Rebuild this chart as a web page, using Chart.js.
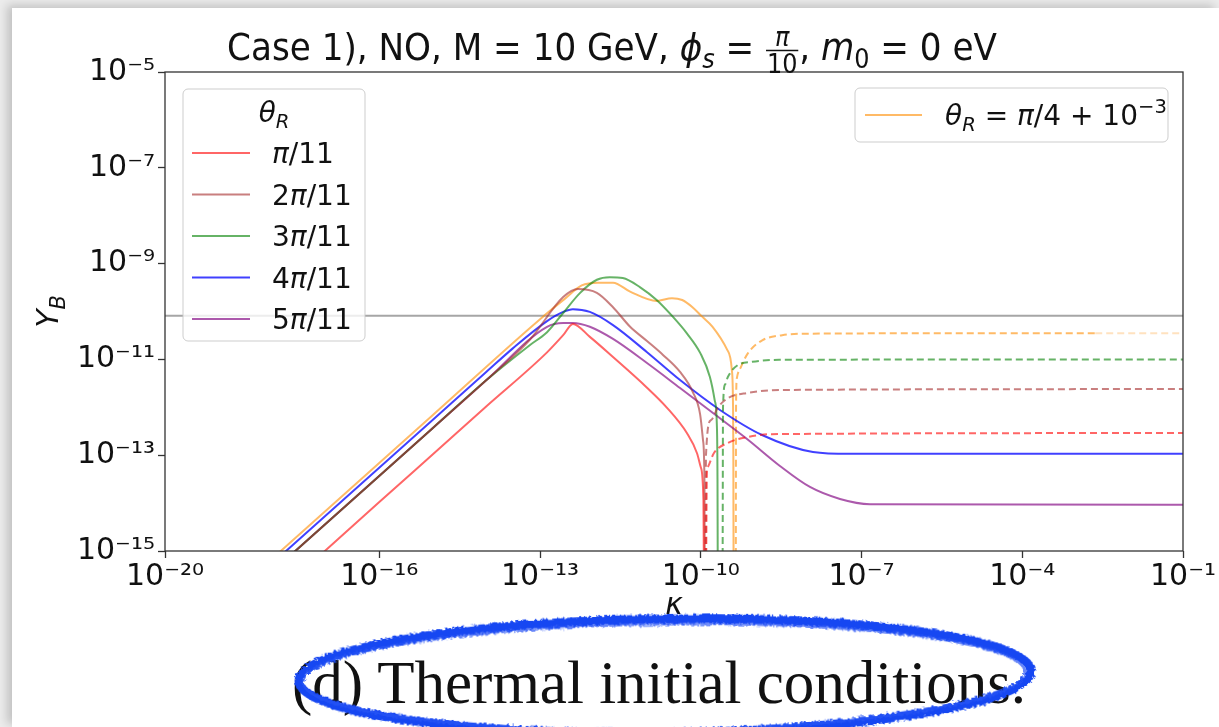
<!DOCTYPE html>
<html>
<head>
<meta charset="utf-8">
<script src="https://cdn.jsdelivr.net/npm/chart.js@4.4.0/dist/chart.umd.min.js"></script>
<style>
  html, body { margin: 0; padding: 0; }
  body { width: 1219px; height: 727px; background: #ececec; position: relative; overflow: hidden; }
  #sheet { position: absolute; left: 12px; top: 8px; right: 0; bottom: 0; background: #fff;
           box-shadow: -5px -3px 9px rgba(0,0,0,0.18); }
  #chart { position: absolute; left: 0; top: 0; }
  #caption { position: absolute; left: 292px; top: 648px; font: 61px "Liberation Serif", serif;
             color: #111; white-space: nowrap; }
  #mark { position: absolute; left: 0; top: 0; }
</style>
</head>
<body>
<div id="sheet"></div>
<canvas id="chart" width="1219" height="727"></canvas>
<div id="caption">(d) Thermal initial conditions.</div>
<svg id="mark" width="1219" height="727">
  <defs>
    <filter id="rough" x="-5%" y="-20%" width="110%" height="140%">
      <feTurbulence type="fractalNoise" baseFrequency="0.35" numOctaves="2" seed="3"/>
      <feDisplacementMap in="SourceGraphic" scale="5"/>
    </filter>
  </defs>
  <g filter="url(#rough)" transform="rotate(-0.8 665 676)">
    <ellipse cx="665" cy="676" rx="366" ry="57" fill="none" stroke="#1746f2" stroke-width="9"/>
    <ellipse cx="664" cy="677" rx="361" ry="53" fill="none" stroke="#2a56f5" stroke-width="3" opacity="0.7"/>
  </g>
</svg>
<script>
// axis ticks (powers of ten) and labels
const xTickExps = [-20, -16, -13, -10, -7, -4, -1];
const yTickExps = [-15, -13, -11, -9, -7, -5];
const thetaLabels = ['$π$/11', '2$π$/11', '3$π$/11', '4$π$/11', '5$π$/11'];
const orangeLabel = '$θ_R = π$/4 + 10$^{−3}$';
const titleText = 'Case 1), NO, M = 10 GeV, $ϕ_s = \\frac{π}{10}$, $m_0 = 0$ eV';
const observedYB = 8.2e-11;

// [kappa, Y_B]; "Flip" = dashed branch after the sign change
const redSolid = [[8e-18, 8.3e-16], [1e-16, 1.05e-14], [1e-15, 1.05e-13], [1e-14, 1.05e-12], [1.35e-13, 1.4e-11],
  [2.7e-13, 3.2e-11], [4.1e-13, 5.5e-11], [8.5e-13, 2.95e-11], [2.3e-12, 1.12e-11], [9.8e-12, 2.6e-12],
  [2.3e-11, 1.0e-12], [5.5e-11, 2.9e-13], [8.5e-11, 1.1e-13], [1.0e-10, 5.6e-14], [1.12e-10, 1.15e-14], [1.15e-10, 1e-16]];
const redFlip = [[1.25e-10, 1e-16], [1.3e-10, 4e-14], [1.35e-10, 5.6e-14], [1.75e-10, 1.1e-13], [3.2e-10, 1.8e-13],
  [7.6e-10, 2.4e-13], [2.1e-9, 2.75e-13], [1e-1, 2.9e-13]];

const brownSolid = [[1e-18, 3.7e-16], [1e-15, 3.7e-13], [1e-14, 3.7e-12], [6.5e-14, 2.6e-11], [2.7e-13, 2.0e-10],
  [5.1e-13, 2.95e-10], [1.15e-12, 2.45e-10], [2.3e-12, 1.23e-10], [4.8e-12, 4.8e-11], [9.9e-12, 2.42e-11],
  [1.97e-11, 1.24e-11], [4.1e-11, 5.46e-12], [7.1e-11, 2.08e-12], [9.7e-11, 7.2e-13], [1.1e-10, 2.07e-13],
  [1.17e-10, 3.0e-14], [1.19e-10, 1e-16]];
const brownFlip = [[1.23e-10, 1e-16], [1.25e-10, 1e-13], [1.55e-10, 5.4e-13], [2.1e-10, 1.0e-12], [3.2e-10, 1.55e-12],
  [7.6e-10, 2.0e-12], [2.9e-9, 2.3e-12], [1e-1, 2.4e-12]];

const greenSolid = [[1e-18, 3.7e-16], [1e-15, 3.7e-13], [1e-14, 3.7e-12], [6.5e-14, 2.0e-11], [1.35e-13, 3.7e-11],
  [2.7e-13, 9.3e-11], [5.6e-13, 2.45e-10], [1.15e-12, 4.6e-10], [2e-12, 5.2e-10], [3.5e-12, 5.0e-10],
  [7.4e-12, 3.2e-10], [1.5e-11, 1.74e-10], [3e-11, 7.8e-11], [5.5e-11, 3.5e-11], [9.8e-11, 1.35e-11],
  [1.48e-10, 4.3e-12], [1.82e-10, 1.4e-12], [2.0e-10, 3.9e-13], [2.05e-10, 3.2e-14], [2.08e-10, 1e-16]];
const greenFlip = [[2.55e-10, 1e-16], [2.6e-10, 1e-12], [2.85e-10, 3e-12], [3.2e-10, 4.3e-12], [4.9e-10, 7.6e-12],
  [9.1e-10, 8.9e-12], [2.9e-9, 9.8e-12], [1e-1, 1.0e-11]];

const blueSolid = [[1e-18, 5.5e-16], [1e-15, 5.5e-13], [1e-14, 5.5e-12], [3.1e-14, 1.7e-11], [1.35e-13, 6.3e-11],
  [2.7e-13, 9.8e-11], [4.1e-13, 1.12e-10], [8.5e-13, 9.8e-11], [2.3e-12, 5.2e-11], [9.8e-12, 1.43e-11],
  [4.1e-11, 3.7e-12], [2.28e-10, 8.8e-13], [1.39e-9, 2.64e-13], [1.24e-8, 1.17e-13], [6e-8, 1.07e-13],
  [1e-1, 1.07e-13]];

const purpleSolid = [[1e-18, 3.7e-16], [1e-15, 3.7e-13], [1e-14, 3.7e-12], [1.35e-13, 4.8e-11], [2.7e-13, 5.75e-11],
  [4.1e-13, 5.75e-11], [8.5e-13, 4.8e-11], [2.3e-12, 2.67e-11], [9.9e-12, 8.4e-12], [4.1e-11, 2.53e-12],
  [1.69e-10, 7.6e-13], [7.3e-10, 2.18e-13], [3.0e-9, 5.96e-14], [1.09e-8, 2.17e-14], [3.96e-8, 1.22e-14],
  [1.44e-7, 9.5e-15], [1e-1, 9.2e-15]];

const orangeSolid = [[1e-18, 6.9e-16], [1e-15, 6.9e-13], [1e-13, 6.9e-11], [3e-13, 1.9e-10], [6e-13, 3.5e-10],
  [1.2e-12, 4.0e-10], [2.3e-12, 4.0e-10], [4.8e-12, 2.6e-10], [1.5e-11, 1.66e-10], [2.9e-11, 1.9e-10],
  [4.5e-11, 1.74e-10], [7e-11, 1.23e-10], [1.05e-10, 7.9e-11], [1.66e-10, 4.8e-11], [3.1e-10, 1.6e-11],
  [3.8e-10, 6.0e-12], [4.0e-10, 1e-12], [4.05e-10, 1e-13], [4.1e-10, 1e-16]];
const orangeFlip = [[4.5e-10, 1e-16], [4.55e-10, 1e-12], [4.7e-10, 4e-12], [5.6e-10, 6.9e-12], [7.6e-10, 1.35e-11],
  [1.4e-9, 2.5e-11], [3.3e-9, 3.2e-11], [1.2e-8, 3.45e-11], [1e-6, 3.5e-11], [2.3e-3, 3.5e-11], [1e-1, 3.5e-11]];

const palette = ['rgba(255,0,0,0.6)', 'rgba(165,42,42,0.6)', 'rgba(0,128,0,0.6)',
                 'rgba(0,0,255,0.75)', 'rgba(128,0,128,0.65)', 'rgba(255,140,0,0.6)'];
const fadedOrange = 'rgba(255,140,0,0.25)';

const solids = [redSolid, brownSolid, greenSolid, blueSolid, purpleSolid, orangeSolid];
const flips = [redFlip, brownFlip, greenFlip, null, null, orangeFlip];
const labels = [...thetaLabels, orangeLabel];

const pts = arr => arr.map(([x, y]) => ({ x, y }));
const datasets = [];
solids.forEach((s, i) => {
  datasets.push({ label: labels[i], data: pts(s), borderColor: palette[i], borderWidth: 2 });
  if (flips[i]) {
    const ds = { label: labels[i] + ' (−)', data: pts(flips[i]), borderColor: palette[i],
                 borderWidth: 2, borderDash: [7, 4] };
    if (i === 5) ds.segment = { borderColor: c => c.p0.parsed.x >= 2e-3 ? fadedOrange : undefined };
    datasets.push(ds);
  }
});
datasets.push({ label: 'observed', data: [{ x: 1e-20, y: observedYB }, { x: 1e-1, y: observedYB }],
                borderColor: 'rgba(128,128,128,0.7)', borderWidth: 2 });

const sup = { '-': '⁻', '0': '⁰', '1': '¹', '2': '²', '3': '³', '4': '⁴', '5': '⁵', '6': '⁶', '7': '⁷', '8': '⁸', '9': '⁹' };
const pow10Label = v => '10' + String(Math.round(Math.log10(v))).split('').map(c => sup[c]).join('');

// tiny mathtext-like renderer: $..$ = math (letters italic), _x / ^{..} scripts, \frac{a}{b}
function parseMath(src, size) {
  const items = [];
  let math = false, i = 0;
  const letter = c => /\p{L}/u.test(c);
  const grab = () => {
    if (src[i] === '{') { const j = src.indexOf('}', i); const a = src.slice(i + 1, j); i = j + 1; return a; }
    return src[i++];
  };
  while (i < src.length) {
    const c = src[i];
    if (c === '$') { math = !math; i++; continue; }
    if (math && (c === '_' || c === '^')) {
      i++;
      const arg = grab();
      const dy = c === '_' ? size * 0.22 : -size * 0.42;
      for (const ch of arg) items.push({ t: ch, it: letter(ch), s: size * 0.7, dy });
      continue;
    }
    if (math && src.startsWith('\\frac', i)) {
      i += 5;
      const num = grab(), den = grab();
      items.push({ frac: [num, den], s: size * 0.7 });
      continue;
    }
    items.push({ t: c, it: math && letter(c), s: size, dy: 0 });
    i++;
  }
  return items;
}
const fontOf = (s, it) => `${it ? 'italic ' : ''}${s}px "DejaVu Sans"`;
function drawMath(ctx, src, x, y, size, align) {
  const items = parseMath(src, size);
  let w = 0;
  for (const it of items) {
    if (it.frac) {
      ctx.font = fontOf(it.s, false);
      it.wn = ctx.measureText(it.frac[0]).width; it.wd = ctx.measureText(it.frac[1]).width;
      it.w = Math.max(it.wn, it.wd) + 4;
    } else { ctx.font = fontOf(it.s, it.it); it.w = ctx.measureText(it.t).width; }
    w += it.w;
  }
  let cx = align === 'center' ? x - w / 2 : x;
  ctx.textAlign = 'left'; ctx.textBaseline = 'alphabetic';
  for (const it of items) {
    if (it.frac) {
      ctx.font = fontOf(it.s, /\p{L}/u.test(it.frac[0]));
      ctx.fillText(it.frac[0], cx + (it.w - it.wn) / 2, y - size * 0.36);
      ctx.font = fontOf(it.s, false);
      ctx.fillText(it.frac[1], cx + (it.w - it.wd) / 2, y + size * 0.33);
      ctx.fillRect(cx + 1, y - size * 0.27, it.w - 2, 1.5);
    } else { ctx.font = fontOf(it.s, it.it); ctx.fillText(it.t, cx, y + it.dy); }
    cx += it.w;
  }
}

function legendBox(ctx, x, y, w, h) {
  ctx.beginPath(); ctx.roundRect(x, y, w, h, 5);
  ctx.fillStyle = 'rgba(255,255,255,0.8)'; ctx.fill();
  ctx.strokeStyle = 'rgba(200,200,200,0.9)'; ctx.lineWidth = 1; ctx.stroke();
}

const decor = {
  id: 'decor',
  afterDraw(chart) {
    const { ctx, chartArea: a } = chart;
    ctx.save();
    // full frame
    ctx.strokeStyle = '#333'; ctx.lineWidth = 1.3;
    ctx.strokeRect(a.left, a.top, a.right - a.left, a.bottom - a.top);
    ctx.fillStyle = '#111';
    // title (slightly condensed like the source screenshot)
    ctx.save(); ctx.translate(612, 0); ctx.scale(0.9, 1);
    drawMath(ctx, titleText, 0, 60, 38, 'center');
    ctx.restore();
    // axis titles
    drawMath(ctx, '$κ$', (a.left + a.right) / 2, 614, 30, 'center');
    ctx.save(); ctx.translate(48, (a.top + a.bottom) / 2); ctx.rotate(-Math.PI / 2);
    drawMath(ctx, '$Y_B$', 0, 10, 30, 'center'); ctx.restore();
    // left legend
    legendBox(ctx, 183, 89, 182, 252);
    ctx.fillStyle = '#111';
    drawMath(ctx, '$θ_R$', 274, 122, 28, 'center');
    thetaLabels.forEach((lab, i) => {
      const yy = 153 + i * 41.5;
      ctx.strokeStyle = palette[i]; ctx.lineWidth = 2; ctx.setLineDash([]);
      ctx.beginPath(); ctx.moveTo(192, yy); ctx.lineTo(250, yy); ctx.stroke();
      ctx.fillStyle = '#111';
      drawMath(ctx, lab, 272, yy + 10, 28, 'left');
    });
    // right legend
    legendBox(ctx, 855, 88, 313, 54);
    ctx.strokeStyle = palette[5]; ctx.lineWidth = 2;
    ctx.beginPath(); ctx.moveTo(865, 115); ctx.lineTo(922, 115); ctx.stroke();
    ctx.fillStyle = '#111';
    drawMath(ctx, orangeLabel, 945, 125, 28, 'left');
    ctx.restore();
  }
};

const tickFont = { family: 'DejaVu Sans', size: 30 };
new Chart(document.getElementById('chart'), {
  type: 'line',
  data: { datasets },
  options: {
    responsive: false,
    animation: false,
    layout: { padding: { left: 0, top: 72, right: 36, bottom: 0 } },
    elements: { point: { radius: 0 }, line: { cubicInterpolationMode: 'monotone' } },
    plugins: { legend: { display: false }, tooltip: { enabled: false } },
    scales: {
      x: {
        type: 'logarithmic', min: 1e-20, max: 1e-1,
        afterBuildTicks: s => { s.ticks = xTickExps.map(e => ({ value: Math.pow(10, e) })); },
        afterFit: s => { s.height = 176; s.paddingLeft = 0; s.paddingRight = 0; },
        ticks: { callback: v => pow10Label(v), font: tickFont, color: '#111', autoSkip: false, maxRotation: 0, padding: 1 },
        grid: { drawOnChartArea: false, drawTicks: true, tickLength: 7, color: '#333', tickWidth: 1.3 },
        border: { display: false }
      },
      y: {
        type: 'logarithmic', min: 1e-15, max: 1e-5,
        afterBuildTicks: s => { s.ticks = yTickExps.map(e => ({ value: Math.pow(10, e) })); },
        afterFit: s => { s.width = 165; s.paddingTop = 0; s.paddingBottom = 0; },
        ticks: { callback: v => pow10Label(v), font: tickFont, color: '#111', autoSkip: false, padding: 3 },
        grid: { drawOnChartArea: false, drawTicks: true, tickLength: 7, color: '#333', tickWidth: 1.3 },
        border: { display: false }
      }
    }
  },
  plugins: [decor]
});
</script>
</body>
</html>
